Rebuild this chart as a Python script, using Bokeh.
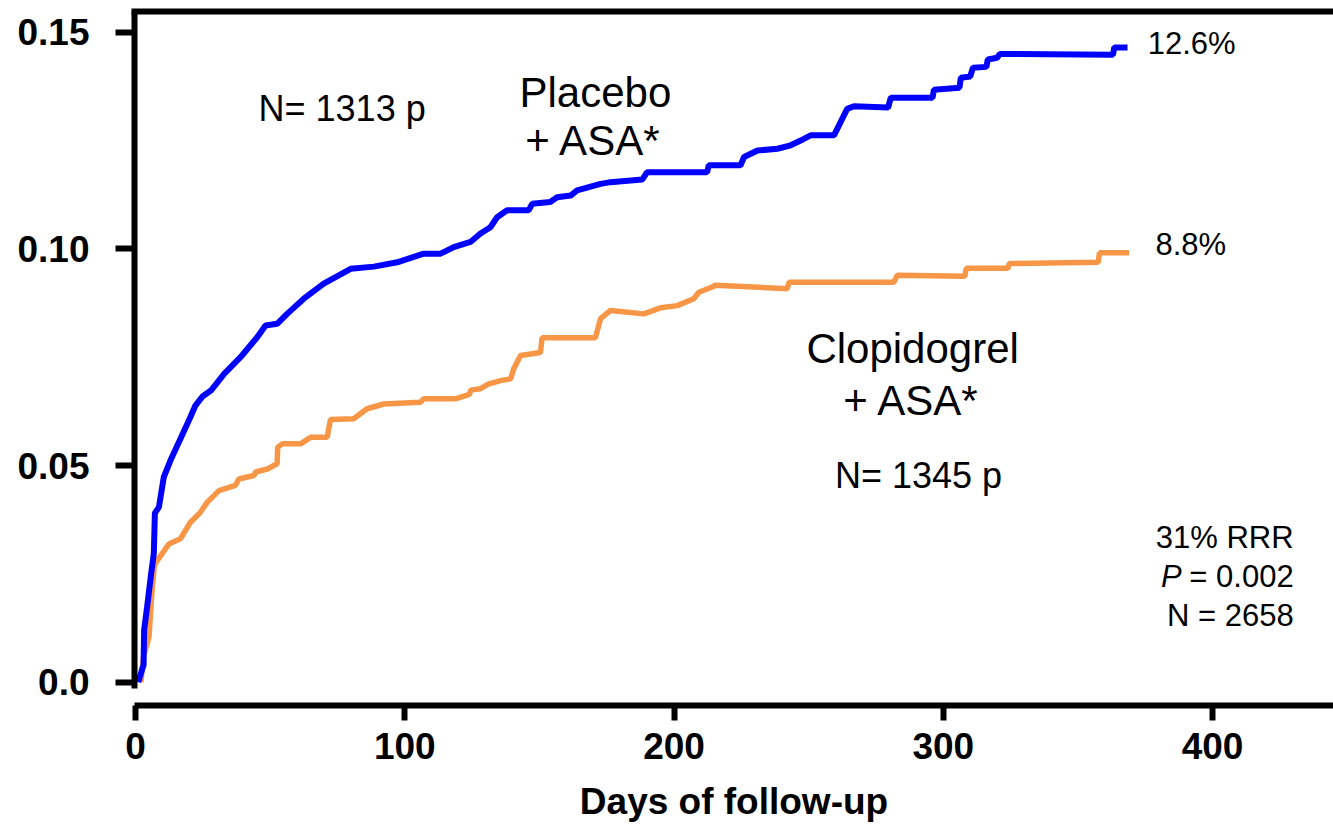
from bokeh.plotting import figure
from bokeh.models import (ColumnDataSource, Range1d, LinearAxis, FixedTicker,
                          CustomJSTickFormatter, Label)
from bokeh.embed import file_html
from bokeh.resources import INLINE

# ---------------- data ----------------
placebo_days = [1, 3, 3.2, 4.3, 5.8, 6.8, 7.2, 8.7, 10.5, 13, 16.7, 20.4, 22.3, 25, 28, 33, 39,
                45.2, 48.3, 52.6, 56.3, 62.5, 69.9, 79.9, 88.5, 97.2, 107, 113.3, 118.2, 124.4,
                128, 131.8, 134.3, 138, 146, 147.3, 154, 156.6, 161.6, 164, 172.7, 176.4, 188.2,
                190, 212.3, 212.9, 224.7, 226, 231, 238.4, 243.3, 247, 250.7, 259.4, 264.3, 266.8,
                279.5, 280.5, 296, 296.5, 306, 306.5, 310, 311, 316, 316.5, 320, 321, 363, 363.5,
                368.4]
placebo_rate = [0.0, 0.004, 0.012, 0.0173, 0.025, 0.0297, 0.039, 0.0404, 0.0473, 0.0512, 0.0562,
                0.0612, 0.0639, 0.066, 0.0673, 0.0712, 0.075, 0.0796, 0.0823, 0.0827, 0.085,
                0.0885, 0.092, 0.0954, 0.0959, 0.0969, 0.0989, 0.0989, 0.1004, 0.1016, 0.1035,
                0.105, 0.1073, 0.1089, 0.1089, 0.1104, 0.1108, 0.1119, 0.1123, 0.1135, 0.115,
                0.1154, 0.116, 0.1177, 0.1177, 0.1193, 0.1193, 0.1212, 0.1227, 0.1231, 0.1239,
                0.125, 0.1262, 0.1262, 0.1323, 0.1329, 0.1326, 0.1349, 0.1349, 0.1367, 0.1372,
                0.1395, 0.1398, 0.1418, 0.142, 0.1437, 0.1441, 0.145, 0.1448, 0.1465, 0.1465]

clopi_days = [2, 3, 5, 6, 7, 8, 12.4, 16.7, 20.4, 24.1, 26.6, 31, 37.1, 38.4, 44, 44.6, 49, 52.6,
              52.8, 54.5, 61.3, 65, 71.2, 72.4, 81, 86, 92.2, 105.8, 107, 118.8, 124, 124.5,
              128, 131, 135.6, 139.3, 140.5, 143, 150.4, 151, 170.8, 172.7, 176.4, 188.8, 195,
              201.2, 207.3, 209.2, 214.2, 215.4, 242, 242.7, 281.6, 282.9, 308, 308.5, 324, 324.5,
              357.5, 358, 369]
clopi_rate = [0.0, 0.006, 0.0104, 0.02, 0.027, 0.028, 0.0319, 0.0331, 0.0369, 0.0392, 0.0415,
              0.0442, 0.0454, 0.0469, 0.0477, 0.0485, 0.0492, 0.0504, 0.0542, 0.055, 0.055,
              0.0565, 0.0565, 0.0606, 0.0608, 0.0631, 0.0642, 0.0646, 0.0654, 0.0654, 0.0664,
              0.0674, 0.0677, 0.0688, 0.0696, 0.070, 0.0724, 0.0754, 0.0761, 0.0795, 0.0795,
              0.0839, 0.0858, 0.085, 0.0864, 0.0869, 0.0885, 0.09, 0.0912, 0.0916, 0.0908,
              0.0923, 0.0923, 0.0939, 0.0937, 0.0955, 0.0955, 0.0966, 0.0969, 0.0991, 0.0991]

x_ticks = [0, 100, 200, 300, 400]
y_ticks = [0.0, 0.05, 0.10, 0.15]
x_title = "Days of follow-up"
end_labels = ["12.6%", "8.8%"]

# ---------------- figure ----------------
FONT = "Liberation Sans"
p = figure(frame_width=1199, frame_height=694, output_backend="svg", toolbar_location=None,
           x_range=Range1d(-0.37, 444.9), y_range=Range1d(-0.00538, 0.15478),
           min_border_left=134, min_border_top=11, min_border_right=0, min_border_bottom=118,
           x_axis_location="below", y_axis_location="left")
p.outline_line_color = None
p.xgrid.visible = False
p.ygrid.visible = False
p.background_fill_color = "white"
p.border_fill_color = "white"

xa = p.xaxis[0]
xa.ticker = FixedTicker(ticks=x_ticks)
xa.axis_line_width = 6
xa.axis_line_color = "black"
xa.major_tick_line_width = 6
xa.major_tick_line_color = "black"
xa.major_tick_out = 15
xa.major_tick_in = 0
xa.minor_tick_line_color = None
xa.major_label_text_font = FONT
xa.major_label_text_font_style = "bold"
xa.major_label_text_font_size = "37px"
xa.major_label_text_color = "black"
xa.major_label_standoff = 12
xa.axis_label = x_title
xa.axis_label_text_font = FONT
xa.axis_label_text_font_style = "bold"
xa.axis_label_text_font_size = "37px"
xa.axis_label_text_color = "black"
xa.axis_label_standoff = 19

ya = p.yaxis[0]
ya.ticker = FixedTicker(ticks=y_ticks)
ya.formatter = CustomJSTickFormatter(code="return tick == 0 ? '0.0' : tick.toFixed(2);")
ya.bounds = (-0.00145, 0.15478)
ya.axis_line_width = 6
ya.axis_line_color = "black"
ya.major_tick_line_width = 6
ya.major_tick_line_color = "black"
ya.major_tick_out = 19
ya.major_tick_in = 0
ya.minor_tick_line_color = None
ya.major_label_text_font = FONT
ya.major_label_text_font_style = "bold"
ya.major_label_text_font_size = "37px"
ya.major_label_text_color = "black"
ya.major_label_standoff = 26

top = LinearAxis(ticker=FixedTicker(ticks=[]), major_tick_out=0, major_tick_in=0,
                 minor_tick_out=0, minor_tick_in=0, major_label_standoff=0,
                 major_label_text_font_size="0px", axis_line_width=6, axis_line_cap="square",
                 axis_line_color="black")
p.add_layout(top, "above")

src_p = ColumnDataSource(dict(x=placebo_days, y=placebo_rate))
src_c = ColumnDataSource(dict(x=clopi_days, y=clopi_rate))
p.line("x", "y", source=src_c, line_color="#F79646", line_width=5.5)
p.line("x", "y", source=src_p, line_color="#0000FF", line_width=6)

DY = 0.0029  # label baseline correction

def lab(x, y, text, size, align="left", style="normal"):
    p.add_layout(Label(x=x, y=y + DY, text=text, text_font=FONT, text_font_size=size,
                       text_align=align, text_baseline="alphabetic", text_font_style=style,
                       text_color="black"))

lab(45.7, 0.1295, "N= 1313 p", "36px")
lab(170.8, 0.1331, "Placebo", "42px", "center")
lab(170.1, 0.1220, "+ ASA*", "42px", "center")
lab(288.6, 0.0742, "Clopidogrel", "42px", "center")
lab(288.2, 0.0622, "+ ASA*", "42px", "center")
lab(290.8, 0.0447, "N= 1345 p", "36px", "center")
lab(375.9, 0.1446, end_labels[0], "31px")
lab(378.8, 0.0980, end_labels[1], "31px")
lab(430.1, 0.0304, "31% RRR", "31px", "right")
lab(430.1, 0.0216, "= 0.002", "31px", "right")
lab(388.5, 0.0216, "P", "31px", "right", "italic")
lab(430.1, 0.0126, "N = 2658", "31px", "right")

open("out.html", "w").write(file_html(p, INLINE))
